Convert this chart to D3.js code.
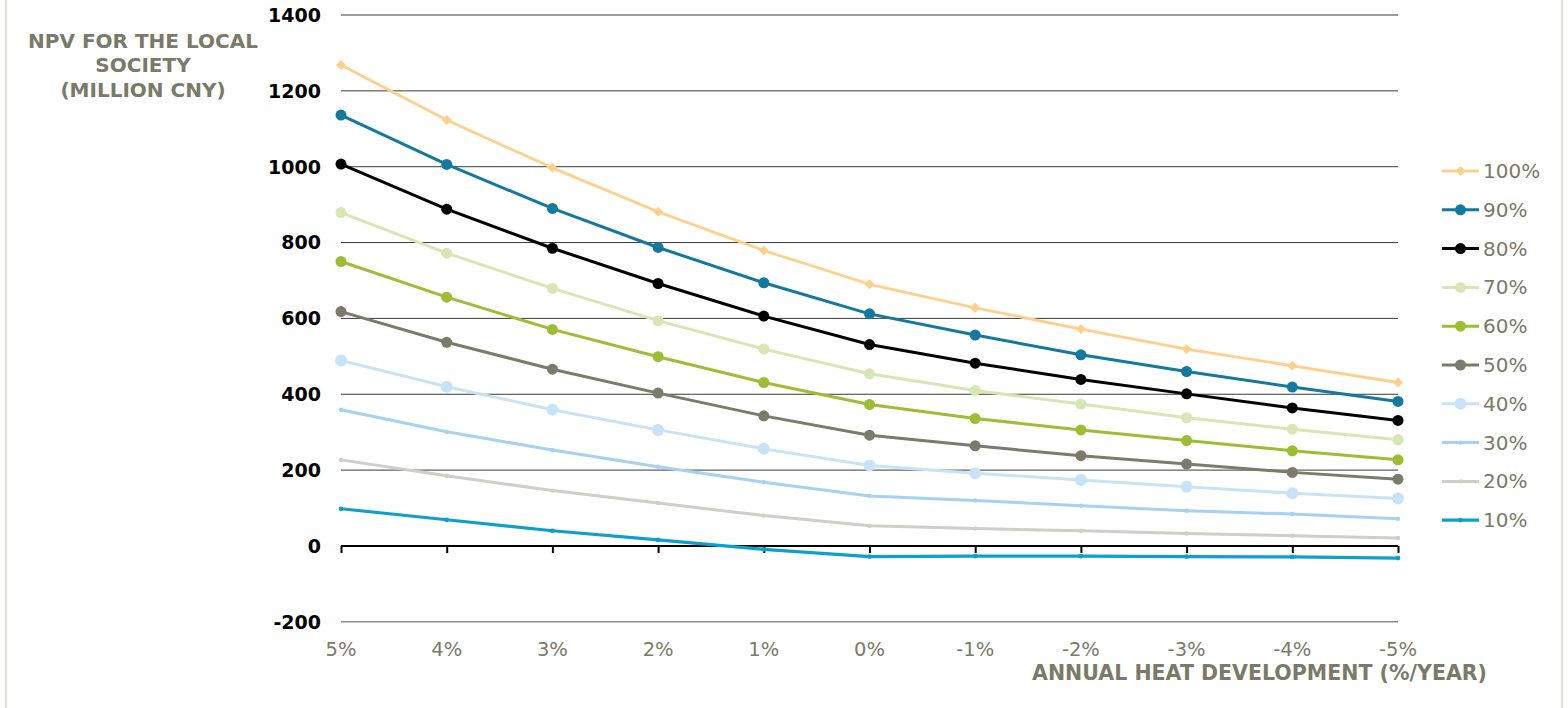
<!DOCTYPE html>
<html>
<head>
<meta charset="utf-8">
<script src="https://cdn.jsdelivr.net/npm/d3@7/dist/d3.min.js"></script>
<style>
  html, body { margin: 0; padding: 0; background: #fff; }
  svg { display: block; font-family: "DejaVu Sans", Verdana, sans-serif; }
</style>
</head>
<body>
<svg id="chart" width="1568" height="708"></svg>
<script>
// Annual heat development scenarios (x axis, left to right)
const categories = ["5%", "4%", "3%", "2%", "1%", "0%", "-1%", "-2%", "-3%", "-4%", "-5%"];

// NPV (million CNY) per heat-utilisation share
const s100 = [1268, 1123, 997, 881, 779, 690, 628, 572, 519, 475, 431];
const s90  = [1136, 1006, 890, 787, 694, 612, 556, 504, 460, 419, 381];
const s80  = [1007, 888, 785, 692, 606, 531, 482, 439, 401, 364, 331];
const s70  = [879, 772, 679, 594, 519, 454, 410, 374, 338, 308, 280];
const s60  = [750, 656, 571, 499, 431, 373, 336, 306, 278, 251, 227];
const s50  = [618, 537, 466, 403, 343, 292, 264, 238, 216, 194, 176];
const s40  = [489, 420, 359, 306, 256, 212, 192, 174, 156, 139, 125];
const s30  = [359, 301, 253, 209, 168, 132, 120, 106, 93, 84, 72];
const s20  = [227, 185, 146, 113, 80, 53, 46, 40, 33, 27, 21];
const s10  = [98, 69, 40, 16, -9, -28, -27, -27, -28, -29, -32];

const seriesNames = ["100%", "90%", "80%", "70%", "60%", "50%", "40%", "30%", "20%", "10%"];
const seriesValues = [s100, s90, s80, s70, s60, s50, s40, s30, s20, s10];

const yTicks = [-200, 0, 200, 400, 600, 800, 1000, 1200, 1400];

// Styling per series: line colour, marker shape and size
const styles = [
  { color: "#FFD08A", marker: "diamond", r: 5, w: 2.8 },
  { color: "#13799F", marker: "circle", r: 5.5, w: 3 },
  { color: "#000000", marker: "circle", r: 5.5, w: 3 },
  { color: "#D8E6B3", marker: "circle", r: 5.5, w: 3 },
  { color: "#9DBE33", marker: "circle", r: 5.5, w: 3 },
  { color: "#7B7B6B", marker: "circle", r: 5.5, w: 3 },
  { color: "#C8E2F8", marker: "circle", r: 6, w: 3 },
  { color: "#A6D1F3", marker: "circle", r: 2.2, w: 3 },
  { color: "#CFCFC6", marker: "circle", r: 2.2, w: 3 },
  { color: "#0BA0CF", marker: "circle", r: 2.4, w: 3.2 }
];

const textGray = "#7A7A68";
const svg = d3.select("#chart");

// Plot area
const x = d3.scalePoint().domain(categories).range([341, 1398]);
const y = d3.scaleLinear().domain([-200, 1400]).range([621.8, 15]);

// Faint side borders of the chart frame
svg.append("line").attr("x1", 6).attr("x2", 6).attr("y1", 0).attr("y2", 708)
  .attr("stroke", "#D9D9D0").attr("stroke-width", 1.5);
svg.append("line").attr("x1", 1562).attr("x2", 1562).attr("y1", 0).attr("y2", 708)
  .attr("stroke", "#D9D9D0").attr("stroke-width", 1.5);

// Horizontal gridlines
svg.append("g").selectAll("line")
  .data(yTicks.filter(d => d !== 0))
  .join("line")
  .attr("x1", x(categories[0]))
  .attr("x2", x(categories[categories.length - 1]))
  .attr("y1", d => y(d)).attr("y2", d => y(d))
  .attr("stroke", d => d === -200 ? "#8C8C8C" : "#3a3a3a")
  .attr("stroke-width", d => d === -200 ? 1.5 : 1);

// Y axis tick labels
svg.append("g").selectAll("text")
  .data(yTicks)
  .join("text")
  .attr("x", 321)
  .attr("y", d => y(d) + 6.8)
  .attr("text-anchor", "end")
  .attr("font-size", 19)
  .attr("font-weight", "bold")
  .attr("fill", "#000")
  .text(d => d);

// Zero baseline with downward ticks at each category
const xAxis = d3.axisBottom(x).tickSize(7).tickFormat("");
const gx = svg.append("g").attr("transform", `translate(0,${y(0)})`).call(xAxis);
gx.select(".domain").attr("stroke", "#000").attr("stroke-width", 2)
  .attr("d", `M${x(categories[0])},0H${x(categories[categories.length - 1])}`);
gx.selectAll(".tick line").attr("stroke", "#000").attr("stroke-width", 2);

// X tick labels beneath the plot
svg.append("g").selectAll("text")
  .data(categories)
  .join("text")
  .attr("x", d => x(d))
  .attr("y", 655.5)
  .attr("text-anchor", "middle")
  .attr("font-size", 19.5)
  .attr("fill", textGray)
  .text(d => d);

// Axis titles
const yTitle = svg.append("text")
  .attr("text-anchor", "middle")
  .attr("font-size", 20)
  .attr("font-weight", "bold")
  .attr("fill", textGray);
["NPV FOR THE LOCAL", "SOCIETY", "(MILLION CNY)"].forEach((t, i) => {
  yTitle.append("tspan").attr("x", 143).attr("y", 47.5 + i * 24.5).text(t);
});

svg.append("text")
  .attr("x", 1032)
  .attr("y", 680)
  .attr("font-size", 20.5)
  .attr("font-weight", "bold")
  .attr("fill", textGray)
  .attr("textLength", 455)
  .attr("lengthAdjust", "spacingAndGlyphs")
  .text("ANNUAL HEAT DEVELOPMENT (%/YEAR)");

// Series lines and markers (lowest drawn first so higher shares sit on top)
const line = d3.line()
  .x((d, i) => x(categories[i]))
  .y(d => y(d));

function drawMarker(g, st, cx, cy) {
  if (st.marker === "diamond") {
    const s = st.r;
    g.append("path")
      .attr("d", `M${cx},${cy - s}L${cx + s},${cy}L${cx},${cy + s}L${cx - s},${cy}Z`)
      .attr("fill", st.color);
  } else {
    g.append("circle").attr("cx", cx).attr("cy", cy).attr("r", st.r).attr("fill", st.color);
  }
}

const plot = svg.append("g");
for (let k = seriesValues.length - 1; k >= 0; k--) {
  const vals = seriesValues[k];
  const st = styles[k];
  const g = plot.append("g");
  g.append("path")
    .datum(vals)
    .attr("d", line)
    .attr("fill", "none")
    .attr("stroke", st.color)
    .attr("stroke-width", st.w)
    .attr("stroke-linejoin", "round");
  vals.forEach((v, i) => drawMarker(g, st, x(categories[i]), y(v)));
}

// Legend
const legend = svg.append("g");
seriesNames.forEach((name, i) => {
  const cy = 171 + i * 38.8;
  const st = styles[i];
  const g = legend.append("g");
  g.append("line").attr("x1", 1442).attr("x2", 1479).attr("y1", cy).attr("y2", cy)
    .attr("stroke", st.color).attr("stroke-width", st.w);
  drawMarker(g, st, 1460.5, cy);
  g.append("text")
    .attr("x", 1483)
    .attr("y", cy + 7)
    .attr("font-size", 20)
    .attr("fill", textGray)
    .text(name);
});
</script>
</body>
</html>
